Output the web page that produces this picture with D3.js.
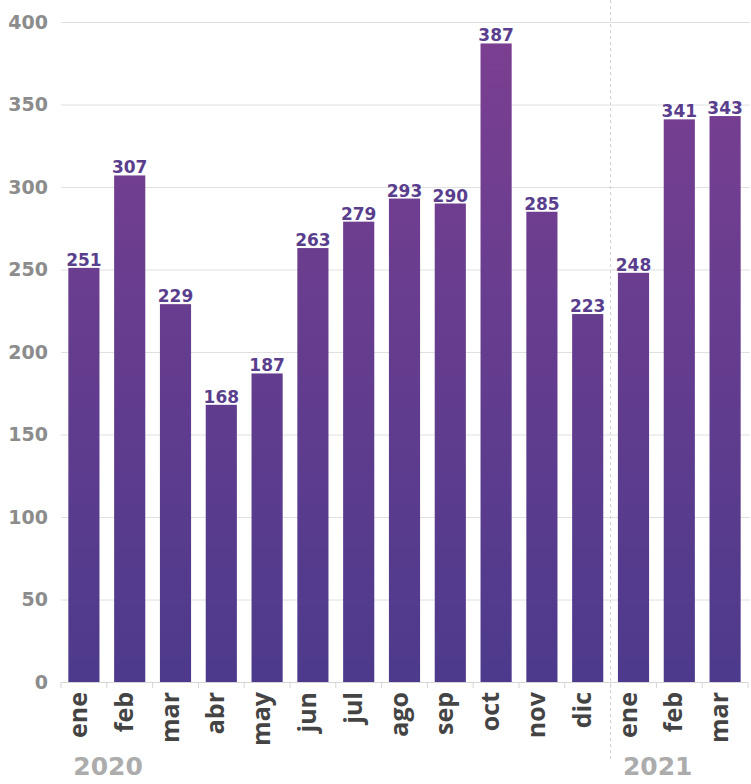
<!DOCTYPE html>
<html>
<head>
<meta charset="utf-8">
<script src="https://cdn.jsdelivr.net/npm/d3@7"></script>
<style>
  body { margin: 0; background: #fff; }
  svg { display: block; }
</style>
</head>
<body>
<script>
// data
var months = ["ene", "feb", "mar", "abr", "may", "jun", "jul", "ago", "sep", "oct", "nov", "dic", "ene", "feb", "mar"];
var years = [2020, 2020, 2020, 2020, 2020, 2020, 2020, 2020, 2020, 2020, 2020, 2020, 2021, 2021, 2021];
var values = [251, 307, 229, 168, 187, 263, 279, 293, 290, 387, 285, 223, 248, 341, 343];
var yTicks = [0, 50, 100, 150, 200, 250, 300, 350, 400];

var chartW = 751, chartH = 784;
// note: "top" is taken by window.top, so plotTop
var plotLeft = 61, plotRight = 748, plotTop = 22, plotBase = 682;

var rows = months.map(function(m, i) {
  return { key: m + "-" + years[i], month: m, year: years[i], value: values[i] };
});

var svg = d3.select("body").append("svg")
  .attr("width", chartW)
  .attr("height", chartH);

var x = d3.scaleBand()
  .domain(rows.map(function(d) { return d.key; }))
  .range([plotLeft, plotRight])
  .paddingInner(0.32)
  .paddingOuter(0.16);

var y = d3.scaleLinear()
  .domain([0, 400])
  .range([plotBase, plotTop]);

// gradient follows the absolute height, so short bars are already bluish at top
var grad = svg.append("defs").append("linearGradient")
  .attr("id", "barGrad")
  .attr("gradientUnits", "userSpaceOnUse")
  .attr("x1", 0).attr("x2", 0)
  .attr("y1", y(400)).attr("y2", y(0));
grad.append("stop").attr("offset", "0%").attr("stop-color", "#7c3f91");
grad.append("stop").attr("offset", "100%").attr("stop-color", "#4d3a8c");

// horizontal grid
svg.append("g")
  .selectAll("line")
  .data(yTicks.slice(1))
  .enter().append("line")
  .attr("x1", plotLeft).attr("x2", 750)
  .attr("y1", function(d) { return y(d) + 0.5; })
  .attr("y2", function(d) { return y(d) + 0.5; })
  .attr("stroke", "#e0e0e0")
  .attr("stroke-width", 1);

// y labels
svg.append("g")
  .selectAll("text")
  .data(yTicks)
  .enter().append("text")
  .attr("x", 48)
  .attr("y", function(d) { return y(d); })
  .attr("dy", "0.36em")
  .attr("text-anchor", "end")
  .attr("font-family", "DejaVu Sans")
  .attr("font-weight", "bold")
  .attr("font-size", "19px")
  .attr("fill", "#8c8c8c")
  .text(function(d) { return d; });

// year separator
var sepX = x(rows[12].key) - x.step() * x.paddingInner() / 2;
svg.append("line")
  .attr("x1", sepX).attr("x2", sepX)
  .attr("y1", 0).attr("y2", 760)
  .attr("stroke", "#d0d0d0")
  .attr("stroke-width", 1)
  .attr("stroke-dasharray", "3,3");

// bars
svg.append("g")
  .selectAll("rect")
  .data(rows)
  .enter().append("rect")
  .attr("x", function(d) { return x(d.key); })
  .attr("y", function(d) { return y(d.value); })
  .attr("width", x.bandwidth())
  .attr("height", function(d) { return y(0) - y(d.value); })
  .attr("fill", "url(#barGrad)");

// value labels
svg.append("g")
  .selectAll("text")
  .data(rows)
  .enter().append("text")
  .attr("x", function(d) { return x(d.key) + x.bandwidth() / 2; })
  .attr("y", function(d) { return y(d.value) - 2; })
  .attr("text-anchor", "middle")
  .attr("font-family", "DejaVu Sans")
  .attr("font-weight", "bold")
  .attr("font-size", "17px")
  .attr("fill", "#5a3e8e")
  .text(function(d) { return d.value; });

// x axis line and band-edge ticks
svg.append("line")
  .attr("x1", plotLeft).attr("x2", plotRight)
  .attr("y1", plotBase + 0.5).attr("y2", plotBase + 0.5)
  .attr("stroke", "#d6d6d6");
var edges = rows.map(function(d) { return x(d.key) - x.step() * x.paddingInner() / 2; });
edges.push(plotRight);
edges[0] = plotLeft;
svg.append("g")
  .selectAll("line")
  .data(edges)
  .enter().append("line")
  .attr("x1", function(d) { return d; }).attr("x2", function(d) { return d; })
  .attr("y1", plotBase).attr("y2", plotBase + 6)
  .attr("stroke", "#d6d6d6");

// month labels
svg.append("g")
  .selectAll("text")
  .data(rows)
  .enter().append("text")
  .attr("transform", function(d) {
    return "translate(" + (x(d.key) + x.bandwidth() / 2) + "," + 692 + ") rotate(-90)";
  })
  .attr("dy", "3px")
  .attr("text-anchor", "end")
  .attr("font-family", "Open Sans")
  .attr("font-weight", "bold")
  .attr("font-size", "25px")
  .attr("fill", "#444444")
  .text(function(d) { return d.month; });

// year labels
var yearStarts = rows.filter(function(d, i) { return i === 0 || rows[i - 1].year !== d.year; });
svg.append("g")
  .selectAll("text")
  .data(yearStarts)
  .enter().append("text")
  .attr("x", function(d) { return x(d.key) + 5; })
  .attr("y", 775)
  .attr("font-family", "DejaVu Sans")
  .attr("font-weight", "bold")
  .attr("font-size", "25px")
  .attr("fill", "#acacac")
  .text(function(d) { return d.year; });
</script>
</body>
</html>
